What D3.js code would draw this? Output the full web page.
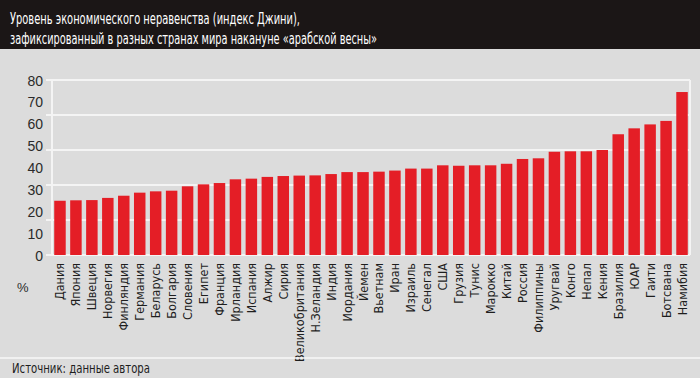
<!DOCTYPE html>
<html><head><meta charset="utf-8">
<script src="https://cdn.jsdelivr.net/npm/d3@7/dist/d3.min.js"></script>
<style>
html,body{margin:0;padding:0;background:#dcdcdc;}
svg{display:block;}
</style></head>
<body>
<script>
const countries = ["Дания","Япония","Швеция","Норвегия","Финляндия","Германия","Беларусь","Болгария","Словения","Египет","Франция","Ирландия","Испания","Алжир","Сирия","Великобритания","Н.Зеландия","Индия","Иордания","Йемен","Вьетнам","Иран","Израиль","Сенегал","США","Грузия","Тунис","Марокко","Китай","Россия","Филиппины","Уругвай","Конго","Непал","Кения","Бразилия","ЮАР","Гаити","Ботсвана","Намибия"];
const gini = [24.8,25.0,25.1,26.1,27.1,28.5,29.1,29.4,31.4,32.3,32.9,34.6,34.9,35.7,36.1,36.3,36.4,37.0,37.9,37.9,38.1,38.6,39.5,39.5,41.0,40.8,41.0,41.0,41.7,43.9,44.2,47.2,47.4,47.4,48.0,55.2,57.9,59.7,61.3,74.5];
const yTicks = [0,10,20,30,40,50,60,70,80];
const gridValues = [16,32,48,64,80];
const titleLines = ["Уровень экономического неравенства (индекс Джини),","зафиксированный в разных странах мира накануне «арабской весны»"];
const sourceText = "Источник: данные автора";
const unitLabel = "%";

const W = 700, H = 378;
const cond = "'Liberation Sans Narrow','Arial Narrow','DejaVu Sans Condensed',sans-serif";
const svg = d3.select("body").append("svg").attr("width", W).attr("height", H);

svg.append("rect").attr("width", W).attr("height", H).attr("fill", "#dcdcdc");
svg.append("rect").attr("width", W).attr("height", 49).attr("fill", "#1b1616");
const titleWidths = [290, 367];
svg.selectAll(".title").data(titleLines).enter().append("text")
  .attr("x", 10).attr("y", (d,i) => 24 + i*20)
  .attr("fill", "#ffffff").attr("font-family", cond).attr("font-size", 16.5)
  .attr("textLength", (d,i) => titleWidths[i]).attr("lengthAdjust", "spacingAndGlyphs")
  .text(d => d);

const x = d3.scaleBand().domain(countries).range([52, 690]).paddingInner(0.28).paddingOuter(0.14);
const y = d3.scaleLinear().domain([0, 80]).range([255, 80]);

// gridlines
svg.selectAll(".grid").data(gridValues).enter().append("line")
  .attr("x1", 46).attr("x2", 690).attr("y1", d => y(d)).attr("y2", d => y(d))
  .attr("stroke", "#f4f4f4").attr("stroke-width", 2);
svg.append("line").attr("x1", 52).attr("x2", 52).attr("y1", y(80)).attr("y2", y(0))
  .attr("stroke", "#f4f4f4").attr("stroke-width", 2);
svg.append("line").attr("x1", 690).attr("x2", 690).attr("y1", y(80)).attr("y2", y(0))
  .attr("stroke", "#f4f4f4").attr("stroke-width", 2);
svg.append("line").attr("x1", 46).attr("x2", 690).attr("y1", y(0)).attr("y2", y(0))
  .attr("stroke", "#f4f4f4").attr("stroke-width", 2);

// y axis labels
const yAxis = d3.axisLeft(y).tickValues(yTicks).tickSize(0).tickPadding(0);
const ga = svg.append("g").attr("transform", "translate(43,0)").call(yAxis);
ga.select(".domain").remove();
ga.selectAll("text").attr("font-family", "'Liberation Sans',Arial,sans-serif")
  .attr("font-size", 14).attr("fill", "#2a2a2a").attr("dy", "0.36em");

// bars
svg.selectAll(".bar").data(countries).enter().append("rect")
  .attr("x", d => x(d)).attr("width", x.bandwidth())
  .attr("y", (d,i) => y(gini[i])).attr("height", (d,i) => y(0) - y(gini[i]))
  .attr("fill", "#e41e26");

// x labels
const xAxis = d3.axisBottom(x).tickSize(0).tickPadding(0);
const gx = svg.append("g").attr("transform", "translate(0,263)").call(xAxis);
gx.select(".domain").remove();
gx.selectAll("text")
  .attr("transform", "rotate(-90)")
  .attr("text-anchor", "end")
  .attr("x", 0).attr("y", 0).attr("dy", "0.36em").attr("dx", 0)
  .attr("font-family", cond).attr("font-size", 12.5).attr("fill", "#1e1e1e");

svg.append("text").attr("x", 17).attr("y", 292).attr("font-family", "'Liberation Sans',Arial,sans-serif")
  .attr("font-size", 13).attr("fill", "#2a2a2a").text(unitLabel);

// footer
svg.append("line").attr("x1", 0).attr("x2", W).attr("y1", 358).attr("y2", 358)
  .attr("stroke", "#f8f8f8").attr("stroke-width", 1.5);
svg.append("text").attr("x", 12).attr("y", 373).attr("font-family", cond)
  .attr("font-size", 13.5).attr("fill", "#1e1e1e")
  .attr("textLength", 138).attr("lengthAdjust", "spacingAndGlyphs").text(sourceText);
</script>
</body></html>
